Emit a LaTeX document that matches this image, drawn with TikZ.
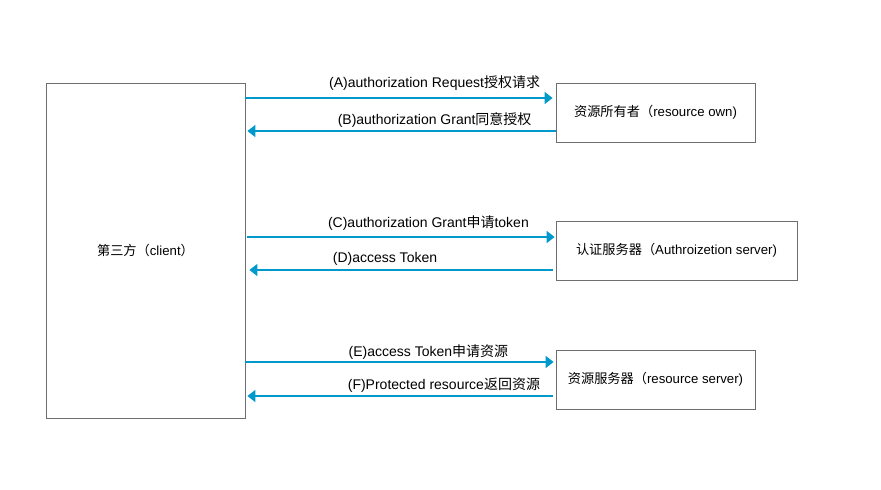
\documentclass[tikz,border=0pt]{standalone}
\usepackage{fontspec}
\setmainfont{Liberation Sans}
\newfontfamily\cjk{Noto Sans CJK SC}
\newcommand{\zh}[1]{{\cjk #1}}
\usetikzlibrary{arrows.meta}

\definecolor{flowblue}{RGB}{0,153,204}
\definecolor{boxgray}{RGB}{110,110,110}

\tikzset{
    party/.style={draw=boxgray, line width=0.8pt, inner sep=0pt, font=\fontsize{13.2}{15}\selectfont},
    flow/.style={draw=flowblue, line width=1.6pt, -{Triangle[length=8pt, width=12pt]}},
    lbl/.style={inner sep=0pt, font=\fontsize{14}{16}\selectfont},
}

\begin{document}
\begin{tikzpicture}[x=1pt, y=-1pt]
        \useasboundingbox (0,0) rectangle (881,490);
        \node[party, minimum width=199pt, minimum height=335pt] (client) at (145.5, 250.5) {\zh{第三方（}client\zh{）}};
        \node[party, minimum width=199pt, minimum height=59pt] (owner) at (655.5, 112.5) {\zh{资源所有者（}resource own)};
        \node[party, minimum width=241pt, minimum height=59pt] (auth) at (676.5, 250.5) {\zh{认证服务器（}Authroizetion server)};
        \node[party, minimum width=199pt, minimum height=59pt] (rserver) at (655.5, 379.5) {\zh{资源服务器（}resource server)};
        \draw[flow, shorten >=3pt] ([yshift=14.5pt]owner.west -| client.east) -- ([yshift=14.5pt]owner.west)
            node[lbl, above=7pt, pos=0.61] (reqA) {(A)authorization Request\zh{授权请求}};
        \draw[flow, shorten >=2pt] ([yshift=-18.5pt]owner.west) -- ([yshift=-18.5pt]owner.west -| client.east)
            node[lbl, above=2.5pt, pos=0.39] (grantB) {(B)authorization Grant\zh{同意授权}};
        \draw[flow, shorten <=2pt, shorten >=1pt] ([yshift=13.5pt]auth.west -| client.east) -- ([yshift=13.5pt]auth.west)
            node[lbl, above=6pt, pos=0.59] (grantC) {(C)authorization Grant\zh{申请}token};
        \draw[flow, shorten <=3pt, shorten >=4pt] ([yshift=-19.5pt]auth.west) -- ([yshift=-19.5pt]auth.west -| client.east)
            node[lbl, above=4pt, pos=0.55] (tokenD) {(D)access Token};
        \draw[flow, shorten >=2pt] ([yshift=17.5pt]rserver.west -| client.east) -- ([yshift=17.5pt]rserver.west)
            node[lbl, above=2pt, pos=0.59] (tokenE) {(E)access Token\zh{申请资源}};
        \draw[flow, shorten <=3pt, shorten >=2pt] ([yshift=-16.5pt]rserver.west) -- ([yshift=-16.5pt]rserver.west -| client.east)
            node[lbl, above=3pt, pos=0.36] (resF) {(F)Protected resource\zh{返回资源}};
\end{tikzpicture}
\end{document}
